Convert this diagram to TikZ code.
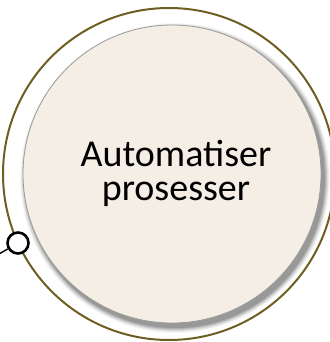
\documentclass[tikz,border=0pt]{standalone}
\usepackage{fontspec}
\setmainfont{Carlito}
\definecolor{ringcol}{HTML}{6E5E22}
\definecolor{discfill}{HTML}{F4EEE5}
\definecolor{discline}{HTML}{9A9A9A}
\tikzset{
  ring/.style={draw=ringcol, line width=2pt},
  disc/.style={fill=discfill, draw=discline, line width=0.8pt},
  port/.style={circle, draw=black, fill=white, line width=2.6pt, minimum size=21pt, inner sep=0pt},
  wire/.style={draw=black, line width=1.4pt},
  label/.style={font=\fontsize{38}{34}\selectfont, align=center, text=black}
}
\begin{document}
\begin{tikzpicture}[x=1pt, y=-1pt]
\useasboundingbox (0,0) rectangle (329,342);
\fill[white] (0,0) rectangle (329,342);
% outer ring
\draw[ring] (169,174) circle (166);
% shadow of the disc
\foreach \r/\o in {155/0.03,154/0.05,153/0.07,152/0.09,151/0.11,150/0.13}{
  \fill[black, opacity=\o] (175,178) circle (\r);
}
% disc
\node[circle, disc, minimum size=298pt, inner sep=0pt] (disc) at (172,174) {};
\node[label, anchor=base] (txt) at (176,200) {Automatiser\\prosesser};
% port and wire
\node[port] (p) at (18,243) {};
\coordinate (w) at (-1,254);
\draw[wire] (p) -- (w);
\end{tikzpicture}
\end{document}
